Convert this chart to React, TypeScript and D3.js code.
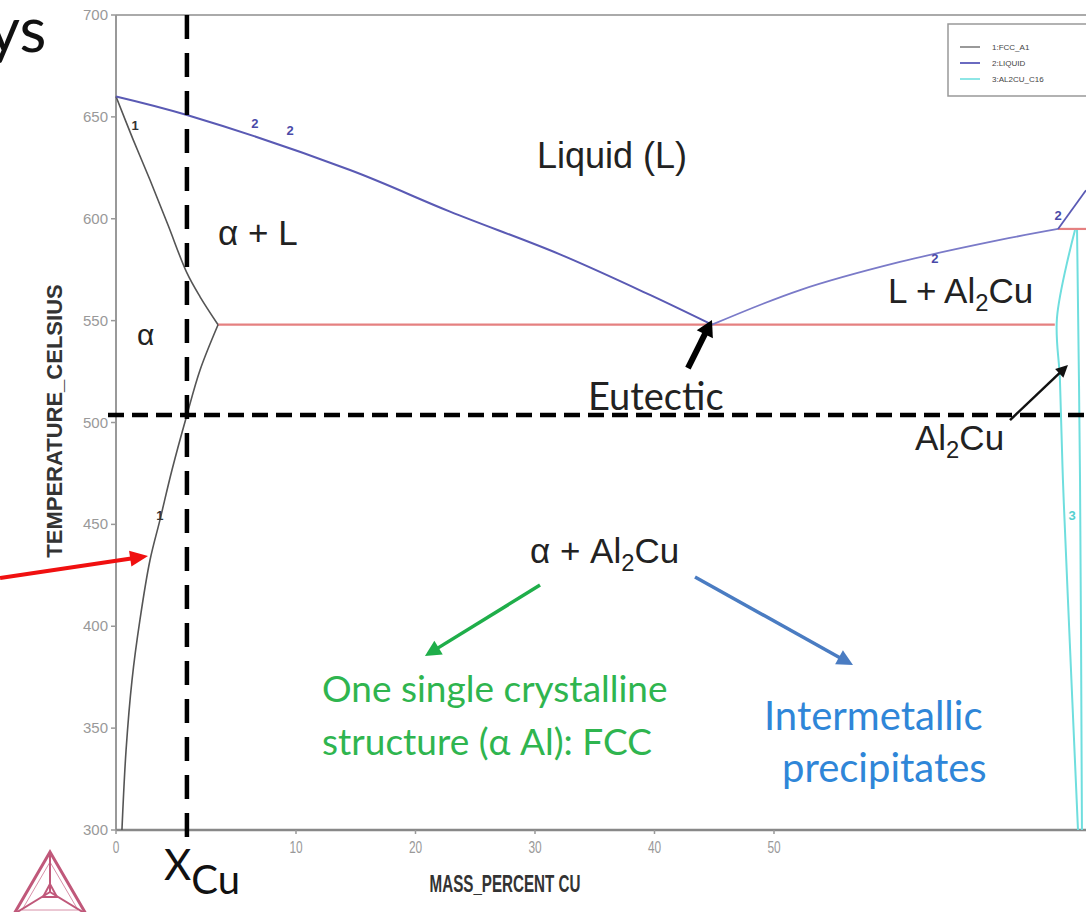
import React from "react";
import * as d3 from "d3";

// ---- data (mass % Cu, °C) ----
const X_TICKS = [0, 10, 20, 30, 40, 50];
const Y_TICKS = [300, 350, 400, 450, 500, 550, 600, 650, 700];
const LEGEND_LABELS = ["1:FCC_A1", "2:LIQUID", "3:AL2CU_C16"];

const LIQUIDUS_AL: [number, number][] = [
  [0, 660], [3.94, 650.9], [14.52, 623.9], [22.89, 603.5], [32.09, 582.5], [39.62, 562.6], [44.81, 548],
];
const LIQUIDUS_AL2CU: [number, number][] = [
  [44.81, 548], [52.18, 565], [60.54, 578.8], [68.91, 589.6], [73.77, 595],
];
const LIQUIDUS_CU: [number, number][] = [[73.77, 595], [76.11, 614]];
const SOLIDUS: [number, number][] = [
  [0, 660], [0.94, 639.1], [1.89, 619.0], [2.89, 596.9], [3.94, 573.4], [4.67, 561.7], [5.67, 548],
];
const SOLVUS: [number, number][] = [
  [5.67, 548], [4.67, 525.8], [3.94, 503.7], [3.11, 476.7], [2.44, 452.1], [1.89, 432.5],
  [1.33, 403.1], [0.89, 373.6], [0.56, 339.3], [0.33, 300],
];
const EUTECTIC_LINE: [number, number][] = [[5.67, 548], [73.5, 548]];
const PERITECTIC_LINE: [number, number][] = [[73.77, 595], [76.11, 595]];
const AL2CU_LEFT: [number, number][] = [
  [75.19, 594.5], [73.68, 551.3], [73.93, 520.9], [74.18, 471.8], [74.6, 412.9], [75.44, 300],
];
const AL2CU_RIGHT: [number, number][] = [[75.36, 594.5], [75.61, 471.8], [75.77, 300]];
const X_CU = 3.94;
const T_ALLOY = 503.7;

const CURVE_LABELS: { t: string; p: [number, number]; c: string }[] = [
  { t: "1", p: [1.06, 643.6], c: "#333" },
  { t: "1", p: [2.44, 452.1], c: "#333" },
  { t: "2", p: [7.72, 644.5], c: "#4a4aa8" },
  { t: "2", p: [9.67, 641.1], c: "#4a4aa8" },
  { t: "2", p: [63.47, 578.3], c: "#4a4aa8" },
  { t: "2", p: [73.77, 599.4], c: "#4a4aa8" },
  { t: "3", p: [74.94, 452.1], c: "#55d0d0" },
];

const W = 1086;
const H = 912;

const x = d3.scaleLinear().domain([0, 10, 76.11]).range([116, 296, 1086]);
const y = d3.scaleLinear().domain([300, 700]).range([830, 15]);

const line = d3
  .line<[number, number]>()
  .x((d) => x(d[0]))
  .y((d) => y(d[1]))
  .curve(d3.curveCatmullRom.alpha(0.5));

function Arrow({ a, b, color, w, hl, hw }: { a: [number, number]; b: [number, number]; color: string; w: number; hl: number; hw: number }) {
  const x1 = x(a[0]), y1 = y(a[1]), x2 = x(b[0]), y2 = y(b[1]);
  const dx = x2 - x1, dy = y2 - y1;
  const L = Math.hypot(dx, dy);
  const ux = dx / L, uy = dy / L;
  const bx = x2 - ux * hl, by = y2 - uy * hl;
  const px = -uy, py = ux;
  const pts = [
    [x2, y2],
    [bx + px * hw, by + py * hw],
    [bx - px * hw, by - py * hw],
  ];
  return (
    <g>
      <line x1={x1} y1={y1} x2={bx + ux * 1} y2={by + uy * 1} stroke={color} strokeWidth={w} />
      <polygon points={pts.map((p) => p.join(",")).join(" ")} fill={color} />
    </g>
  );
}

const ARIAL = "'Liberation Sans', Arial, sans-serif";
const CALIBRI = "Lato, 'Open Sans', sans-serif";

function Sub({ base, sub, rest, fs }: { base: string; sub: string; rest: string; fs: number }) {
  return (
    <>
      {base}
      <tspan fontSize={fs * 0.68} dy={fs * 0.22}>{sub}</tspan>
      <tspan dy={-fs * 0.22}>{rest}</tspan>
    </>
  );
}

export default function App() {
  const fs = 35;
  return (
    <svg width={W} height={H} style={{ position: "absolute", left: 0, top: 0, background: "#fff" }}>
      <rect x={0} y={0} width={W} height={H} fill="#fff" />
      {/* frame */}
      <line x1={116} y1={y(700)} x2={W} y2={y(700)} stroke="#aaa" strokeWidth={2} />
      <line x1={116} y1={y(700)} x2={116} y2={y(300)} stroke="#999" strokeWidth={2} />
      <line x1={116} y1={y(300)} x2={W} y2={y(300)} stroke="#888" strokeWidth={2.5} />
      {/* ticks */}
      {Y_TICKS.map((t) => (
        <g key={"y" + t}>
          <line x1={111} x2={116} y1={y(t)} y2={y(t)} stroke="#999" strokeWidth={1.5} />
          <text x={108} y={y(t) + 5} textAnchor="end" fontFamily={ARIAL} fontSize={15} fill="#999">{t}</text>
        </g>
      ))}
      {X_TICKS.map((t) => (
        <g key={"x" + t}>
          <line x1={x(t)} x2={x(t)} y1={y(300)} y2={y(300) + 4} stroke="#999" strokeWidth={1.5} />
          <text transform={`translate(${x(t)},${y(300) + 23}) scale(0.7,1)`} textAnchor="middle" fontFamily={ARIAL} fontSize={17} fill="#999">{t}</text>
        </g>
      ))}
      <text transform={`translate(505,892) scale(0.66,1)`} textAnchor="middle" fontFamily={ARIAL} fontWeight="bold" fontSize={23} fill="#333">MASS_PERCENT CU</text>
      <text transform={`translate(62,421) rotate(-90)`} textAnchor="middle" fontFamily={ARIAL} fontWeight="bold" fontSize={22} fill="#333">TEMPERATURE_CELSIUS</text>

      {/* phase boundaries */}
      <path d={line(EUTECTIC_LINE)!} fill="none" stroke="#e58080" strokeWidth={2.2} />
      <path d={line(PERITECTIC_LINE)!} fill="none" stroke="#e58080" strokeWidth={2.2} />
      <path d={line(SOLIDUS)!} fill="none" stroke="#555" strokeWidth={1.6} />
      <path d={line(SOLVUS)!} fill="none" stroke="#555" strokeWidth={1.6} />
      <path d={line(LIQUIDUS_AL)!} fill="none" stroke="#5a5ab4" strokeWidth={2} />
      <path d={line(LIQUIDUS_AL2CU)!} fill="none" stroke="#7a7ac8" strokeWidth={1.8} />
      <path d={line(LIQUIDUS_CU)!} fill="none" stroke="#5a5ab4" strokeWidth={1.8} />
      <path d={line(AL2CU_LEFT)!} fill="none" stroke="#6fdede" strokeWidth={2} />
      <path d={line(AL2CU_RIGHT)!} fill="none" stroke="#6fdede" strokeWidth={2} />
      {CURVE_LABELS.map((c, i) => (
        <text key={i} x={x(c.p[0])} y={y(c.p[1])} textAnchor="middle" fontFamily={ARIAL} fontSize={13} fontWeight="bold" fill={c.c}>{c.t}</text>
      ))}

      {/* legend */}
      <rect x={948} y={24} width={150} height={72} fill="#fff" stroke="#999" strokeWidth={1.5} />
      {LEGEND_LABELS.map((l, i) => (
        <g key={l}>
          <line x1={960} x2={980} y1={47 + i * 16} y2={47 + i * 16} stroke={["#999", "#6a6ac0", "#8ee6e6"][i]} strokeWidth={2} />
          <text x={992} y={50 + i * 16} fontFamily={ARIAL} fontSize={8} fill="#444">{l}</text>
        </g>
      ))}

      {/* dashed guide lines */}
      <line x1={x(X_CU)} x2={x(X_CU)} y1={y(700)} y2={y(300) + 8} stroke="#000" strokeWidth={4.5} strokeDasharray="24 14" />
      <line x1={108} x2={W} y1={y(T_ALLOY)} y2={y(T_ALLOY)} stroke="#000" strokeWidth={4.5} strokeDasharray="16 8" />

      {/* region labels */}
      <g fontFamily={ARIAL} fontSize={fs} fill="#222">
        <text x={x(30.17)} y={y(624.9)} fontSize={36}>Liquid (L)</text>
        <text x={x(5.67)} y={y(587.1)}>α + L</text>
        <text x={x(1.17)} y={y(538)} fontSize={30}>α</text>
        <text x={x(59.54)} y={y(558.6)}><Sub base="L + Al" sub="2" rest="Cu" fs={fs} /></text>
        <text x={x(61.8)} y={y(486.5)}><Sub base="Al" sub="2" rest="Cu" fs={fs} /></text>
        <text x={x(29.58)} y={y(431)}><Sub base="α + Al" sub="2" rest="Cu" fs={fs} /></text>
      </g>
      <text x={x(34.43)} y={y(506.1)} fontFamily={CALIBRI} fontSize={38} fill="#222">Eutectic</text>
      <g fontFamily={CALIBRI} fontSize={37} fill="#2fb54f">
        <text x={x(12.18)} y={y(362.8)}>One single crystalline</text>
        <text x={x(12.18)} y={y(336.8)}>structure (α Al): FCC</text>
      </g>
      <g fontFamily={CALIBRI} fontSize={40} fill="#2f86d8">
        <text x={x(49.16)} y={y(349.1)}>Intermetallic</text>
        <text x={x(50.67)} y={y(323.6)}>precipitates</text>
      </g>

      {/* arrows */}
      <Arrow a={[-6.44, 423.7]} b={[1.78, 434.5]} color="#f01010" w={4} hl={18} hw={8} />
      <Arrow a={[42.8, 526.7]} b={[44.81, 550.3]} color="#000" w={6} hl={16} hw={9} />
      <Arrow a={[69.75, 501.2]} b={[74.6, 528.2]} color="#111" w={2.5} hl={12} hw={6} />
      <Arrow a={[30.42, 420.2]} b={[20.79, 385.4]} color="#1fae4a" w={3.5} hl={16} hw={8} />
      <Arrow a={[43.39, 424.2]} b={[56.61, 381.0]} color="#4a7cc2" w={3.5} hl={16} hw={8} />

      {/* big labels */}
      <text x={-12} y={52} fontFamily={CALIBRI} fontSize={62} fill="#111">ys</text>
      <text x={164} y={880} fontFamily={CALIBRI} fontSize={42} fill="#111">X<tspan dy={14} fontSize={40}>Cu</tspan></text>

      {/* logo */}
      <g fill="none" stroke="#c0587a">
        <polygon points="50,852 14,914 86,914" strokeWidth={3} />
        <polygon points="50,862 22,910 78,910" strokeWidth={1} stroke="#d890a8" />
        <line x1={50} y1={852} x2={50} y2={892} strokeWidth={2} />
        <line x1={14} y1={914} x2={50} y2={892} strokeWidth={2} />
        <line x1={86} y1={914} x2={50} y2={892} strokeWidth={2} />
        <polygon points="50,884 43,897 57,897" strokeWidth={2} />
      </g>
    </svg>
  );
}
